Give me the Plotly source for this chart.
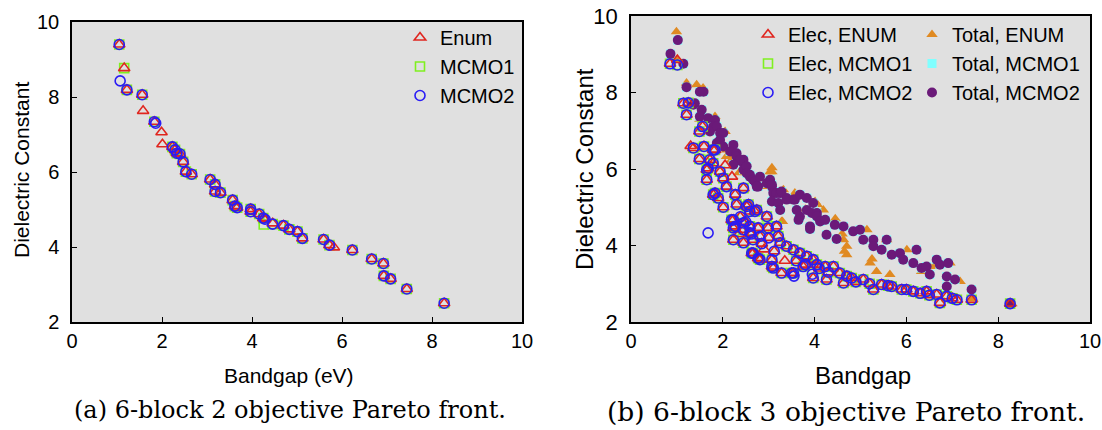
import plotly.graph_objects as go

# ---------------- (a) 6-block 2 objective ----------------
enum_x = [1.05, 1.16, 1.22, 1.56, 1.58, 1.83, 1.99, 2.01, 2.23, 2.29, 2.33, 2.40, 2.47, 2.53, 2.66,
          3.07, 3.18, 3.18, 3.30, 3.57, 3.62, 3.67, 3.97, 3.97, 4.16, 4.25, 4.29, 4.46, 4.70, 4.83,
          5.01, 5.12, 5.59, 5.72, 5.82, 6.23, 6.66, 6.92, 6.93, 7.08, 7.44, 8.27]
enum_y = [9.40, 8.77, 8.19, 8.06, 7.63, 7.34, 7.06, 6.74, 6.67, 6.59, 6.50, 6.48, 6.27, 6.01, 5.94,
          5.80, 5.67, 5.48, 5.45, 5.25, 5.09, 5.05, 5.01, 4.94, 4.88, 4.77, 4.74, 4.63, 4.57, 4.47,
          4.41, 4.23, 4.20, 4.05, 3.99, 3.92, 3.68, 3.56, 3.23, 3.15, 2.88, 2.50]

mcmo1_x = [1.05, 1.16, 1.22, 1.56, 1.83, 2.23, 2.29, 2.33, 2.40, 2.47, 2.53, 2.66, 3.07, 3.18, 3.18,
           3.30, 3.57, 3.62, 3.67, 3.97, 3.97, 4.16, 4.25, 4.26, 4.46, 4.70, 4.83, 5.01, 5.12, 5.59,
           5.72, 6.23, 6.66, 6.92, 6.93, 7.08, 7.44, 8.27]
mcmo1_y = [9.40, 8.77, 8.19, 8.06, 7.34, 6.67, 6.59, 6.50, 6.48, 6.27, 6.01, 5.94, 5.80, 5.67, 5.48,
           5.45, 5.25, 5.09, 5.05, 5.01, 4.94, 4.88, 4.77, 4.60, 4.61, 4.57, 4.47, 4.41, 4.23, 4.20,
           4.05, 3.92, 3.68, 3.56, 3.23, 3.15, 2.88, 2.50]

mcmo2_x = [1.05, 1.07, 1.22, 1.56, 1.83, 1.86, 2.23, 2.29, 2.33, 2.40, 2.47, 2.53, 2.66, 3.07, 3.18,
           3.18, 3.30, 3.57, 3.62, 3.67, 3.97, 3.97, 4.16, 4.25, 4.29, 4.46, 4.70, 4.83, 5.01, 5.12,
           5.59, 5.72, 6.23, 6.66, 6.92, 6.93, 7.08, 7.44, 8.27]
mcmo2_y = [9.40, 8.43, 8.19, 8.06, 7.34, 7.30, 6.67, 6.59, 6.50, 6.48, 6.27, 6.01, 5.94, 5.80, 5.67,
           5.48, 5.45, 5.25, 5.09, 5.05, 5.01, 4.94, 4.88, 4.77, 4.74, 4.61, 4.57, 4.47, 4.41, 4.23,
           4.20, 4.05, 3.92, 3.68, 3.56, 3.23, 3.15, 2.88, 2.50]

# ---------------- (b) 6-block 3 objective ----------------
elec_enum_x = [0.85, 1.01, 1.14, 1.25, 1.21, 1.56, 1.49, 1.36, 1.59, 1.83, 1.49, 1.72, 1.79, 1.68, 1.94,
               2.01, 1.65, 2.08, 2.45, 1.83, 1.90, 2.01, 2.27, 2.30, 2.23, 2.27, 2.52, 2.59, 2.74, 2.96,
               2.23, 2.45, 2.66, 2.45, 2.59, 2.81, 2.99, 3.17, 3.21, 3.25, 3.39, 3.54, 2.66, 2.81, 3.07,
               3.10, 3.28, 3.54, 3.75, 3.97, 4.05, 2.45, 2.59, 2.77, 2.63, 2.77, 3.07, 3.68, 3.83, 4.23,
               4.41, 4.55, 3.50, 3.97, 4.26, 4.63, 4.81, 5.06, 5.28, 5.46, 5.68, 5.90, 6.15, 6.44, 6.66,
               6.88, 6.73, 7.10, 7.42, 8.26, 1.79, 1.65, 1.79, 2.56, 2.70, 2.19, 2.23, 3.60, 3.80, 4.10,
               4.30, 4.70, 4.90, 5.20, 5.60, 6.00, 6.30, 6.50, 7.00, 2.05, 2.20, 1.30, 2.35, 2.90, 3.35,
               2.38, 2.50, 2.62, 2.85, 3.00, 3.12]
elec_enum_y = [8.75, 8.85, 7.72, 7.73, 7.42, 7.11, 6.98, 6.55, 6.59, 6.50, 6.26, 6.24, 6.15, 6.02, 5.93,
               5.76, 5.72, 5.54, 5.50, 5.37, 5.24, 5.00, 5.33, 5.07, 4.67, 4.50, 5.02, 4.89, 4.93, 4.76,
               4.15, 4.07, 4.15, 4.41, 4.33, 4.24, 4.46, 4.50, 4.24, 4.07, 3.98, 3.89, 3.80, 3.63, 3.63,
               3.41, 3.28, 3.28, 3.45, 3.63, 3.50, 4.59, 4.50, 4.46, 3.80, 3.67, 3.45, 3.80, 3.72, 3.45,
               3.45, 3.28, 3.28, 3.15, 3.11, 3.02, 3.15, 3.11, 2.85, 2.98, 2.93, 2.85, 2.80, 2.80, 2.72,
               2.67, 2.50, 2.58, 2.58, 2.48, 6.50, 5.98, 5.33, 5.07, 4.89, 4.67, 4.46, 3.60, 3.50, 3.40,
               3.30, 3.20, 3.05, 3.00, 2.95, 2.85, 2.75, 2.70, 2.62, 6.10, 5.80, 6.60, 4.30, 3.90, 3.60,
               4.75, 4.62, 4.30, 4.05, 4.20, 3.85]

elec_mcmo1_x = [0.85, 1.01, 1.14, 1.25, 1.21, 1.56, 1.49, 1.36, 1.59, 1.83, 1.49, 1.72, 1.79, 1.68, 1.94,
                2.01, 1.65, 2.08, 2.45, 1.83, 1.90, 2.01, 2.27, 2.30, 2.23, 2.27, 2.52, 2.59, 2.74, 2.96,
                2.23, 2.45, 2.66, 2.45, 2.59, 2.81, 2.99, 3.17, 3.21, 3.25, 3.39, 3.54, 2.66, 2.81, 3.07,
                3.10, 3.28, 3.54, 3.75, 3.97, 4.05, 2.45, 2.59, 2.77, 2.63, 2.77, 3.07, 3.68, 3.83, 4.23,
                4.41, 4.55, 3.50, 3.97, 4.26, 4.63, 4.81, 5.06, 5.28, 5.46, 5.68, 5.90, 6.15, 6.44, 6.66,
                6.88, 6.73, 7.10, 7.42, 8.26, 1.79, 1.65, 1.79, 2.56, 2.70, 2.19, 2.23, 3.60, 3.80, 4.10,
                4.30, 4.70, 4.90, 5.20, 5.60, 6.00, 6.30, 6.50, 7.00]
elec_mcmo1_y = [8.75, 8.72, 7.72, 7.73, 7.42, 7.11, 6.98, 6.55, 6.59, 6.50, 6.26, 6.24, 6.15, 6.02, 5.93,
                5.76, 5.72, 5.54, 5.50, 5.37, 5.24, 5.00, 5.33, 5.07, 4.67, 4.50, 5.02, 4.89, 4.93, 4.76,
                4.15, 4.07, 4.15, 4.41, 4.33, 4.24, 4.46, 4.50, 4.24, 4.07, 3.98, 3.89, 3.80, 3.63, 3.63,
                3.41, 3.28, 3.28, 3.45, 3.63, 3.50, 4.59, 4.50, 4.46, 3.80, 3.67, 3.45, 3.80, 3.72, 3.45,
                3.45, 3.28, 3.28, 3.15, 3.11, 3.02, 3.15, 3.11, 2.85, 2.98, 2.93, 2.85, 2.80, 2.80, 2.72,
                2.67, 2.50, 2.58, 2.58, 2.48, 6.50, 5.98, 5.33, 5.07, 4.89, 4.67, 4.46, 3.60, 3.50, 3.40,
                3.30, 3.20, 3.05, 3.00, 2.95, 2.85, 2.75, 2.70, 2.62]

elec_mcmo2_x = [0.85, 1.01, 1.14, 1.25, 1.21, 1.56, 1.49, 1.36, 1.59, 1.83, 1.49, 1.72, 1.79, 1.68, 1.94,
                2.01, 1.65, 2.08, 2.45, 1.83, 1.90, 2.01, 2.27, 2.30, 2.23, 2.27, 2.52, 2.59, 2.74, 2.96,
                2.23, 2.45, 2.66, 2.45, 2.59, 2.81, 2.99, 3.17, 3.21, 3.25, 3.39, 3.54, 2.66, 2.81, 3.07,
                3.10, 3.28, 3.54, 3.75, 3.97, 4.05, 2.45, 2.59, 2.77, 2.63, 2.77, 3.07, 3.68, 3.83, 4.23,
                4.41, 4.55, 3.50, 3.97, 4.26, 4.63, 4.81, 5.06, 5.28, 5.46, 5.68, 5.90, 6.15, 6.44, 6.66,
                6.88, 6.73, 7.10, 7.42, 8.26, 1.79, 1.65, 1.79, 2.56, 2.70, 2.19, 2.23, 3.60, 3.80, 4.10,
                4.30, 4.70, 4.90, 5.20, 5.60, 6.00, 6.30, 6.50, 7.00, 1.68, 3.55, 3.95, 2.38, 2.50, 2.62,
                2.85, 3.00, 3.12]
elec_mcmo2_y = [8.75, 8.72, 7.72, 7.73, 7.42, 7.11, 6.98, 6.55, 6.59, 6.50, 6.26, 6.24, 6.15, 6.02, 5.93,
                5.76, 5.72, 5.54, 5.50, 5.37, 5.24, 5.00, 5.33, 5.07, 4.67, 4.50, 5.02, 4.89, 4.93, 4.76,
                4.15, 4.07, 4.15, 4.41, 4.33, 4.24, 4.46, 4.50, 4.24, 4.07, 3.98, 3.89, 3.80, 3.63, 3.63,
                3.41, 3.28, 3.28, 3.45, 3.63, 3.50, 4.59, 4.50, 4.46, 3.80, 3.67, 3.45, 3.80, 3.72, 3.45,
                3.45, 3.28, 3.28, 3.15, 3.11, 3.02, 3.15, 3.11, 2.85, 2.98, 2.93, 2.85, 2.80, 2.80, 2.72,
                2.67, 2.50, 2.58, 2.58, 2.48, 6.50, 5.98, 5.33, 5.07, 4.89, 4.67, 4.46, 3.60, 3.50, 3.40,
                3.30, 3.20, 3.05, 3.00, 2.95, 2.85, 2.75, 2.70, 2.62, 4.33, 3.20, 3.25, 4.75, 4.62, 4.30,
                4.05, 4.20, 3.85]

total_enum_x = [0.99, 1.21, 1.57, 1.43, 1.83, 2.05, 2.08, 2.16, 1.98, 2.08, 2.19, 2.85, 3.07, 3.07, 3.03,
                3.32, 3.30, 3.61, 3.57, 4.06, 4.01, 4.19, 3.28, 4.63, 4.70, 4.70, 4.65, 5.14, 5.21, 5.35,
                5.64, 5.57, 6.01, 6.33, 6.59, 6.95, 7.17, 7.45, 8.30, 1.00, 1.50, 2.50, 2.70, 4.60, 5.25,
                4.45, 3.80, 2.35]
total_enum_y = [9.59, 8.25, 8.12, 8.20, 7.37, 6.98, 6.33, 6.33, 6.68, 6.50, 6.24, 5.54, 5.93, 6.03, 5.93,
                5.46, 4.63, 5.28, 5.37, 5.07, 5.15, 4.93, 4.63, 4.15, 3.98, 3.76, 3.85, 4.41, 3.54, 3.32,
                3.24, 4.15, 3.89, 3.32, 3.45, 3.54, 3.06, 2.60, 2.48, 8.85, 7.30, 6.00, 5.70, 4.30, 3.65,
                4.70, 4.95, 5.90]

total_mcmo2_x = [1.02, 0.86, 1.14, 1.21, 1.50, 1.58, 1.39, 1.36, 1.54, 1.50, 1.68, 1.83, 1.79, 1.72, 1.87,
                 1.94, 2.01, 1.87, 1.94, 2.01, 2.23, 2.16, 2.30, 2.30, 2.45, 2.41, 2.37, 2.23, 2.45, 2.52,
                 2.52, 2.59, 2.59, 2.66, 2.70, 2.81, 2.77, 2.74, 2.96, 3.03, 3.07, 3.07, 3.10, 3.17, 3.25,
                 3.28, 3.07, 3.21, 3.39, 3.39, 3.54, 3.57, 3.68, 3.83, 3.25, 3.61, 3.68, 3.83, 3.94, 3.97,
                 4.05, 4.05, 4.12, 4.23, 3.65, 3.90, 3.90, 4.26, 4.48, 4.44, 4.63, 4.84, 4.99, 5.06, 5.28,
                 5.28, 5.46, 5.57, 5.68, 5.86, 5.93, 6.15, 6.22, 6.33, 6.44, 6.51, 6.66, 6.73, 6.91, 6.88,
                 7.06, 6.88, 7.42, 8.26]
total_mcmo2_y = [9.37, 9.01, 8.75, 8.14, 8.02, 8.02, 7.72, 7.68, 7.55, 7.37, 7.33, 7.28, 7.11, 6.98, 7.11,
                 6.94, 6.94, 6.68, 6.76, 6.59, 6.63, 6.46, 6.41, 6.33, 6.24, 6.20, 6.24, 6.11, 5.98, 6.07,
                 5.89, 5.85, 5.80, 5.72, 5.67, 5.80, 5.54, 5.54, 5.63, 5.72, 5.54, 5.59, 5.37, 5.37, 5.37,
                 5.41, 5.15, 5.11, 5.24, 5.20, 5.20, 5.20, 5.33, 5.24, 4.93, 4.93, 4.76, 4.93, 4.85, 5.11,
                 4.85, 4.76, 4.63, 4.67, 4.67, 4.50, 4.43, 4.28, 4.17, 4.54, 4.50, 4.37, 4.41, 4.15, 4.15,
                 3.98, 3.89, 4.15, 3.76, 3.80, 3.63, 3.54, 3.89, 3.41, 3.45, 3.24, 3.63, 3.50, 3.54, 3.19,
                 3.11, 2.93, 2.85, 2.48]

total_mcmo1_x = list(total_mcmo2_x)
total_mcmo1_y = list(total_mcmo2_y)

x_ticks = [0, 2, 4, 6, 8, 10]
y_ticks = [2, 4, 6, 8, 10]

RED = "#e0261f"
GREEN = "#80f020"
BLUE = "#2a1cf5"
ORANGE = "#e08a22"
CYAN = "#80ffff"
PURPLE = "#6b1a79"
FONT = "Liberation Sans"
SERIF = "DejaVu Serif"

# the page body margin is removed (see post_script), so the figure fills the 1102x430 window
W, H = 1102, 430


def fx(px):
    return px / W


def fy(py):
    return 1 - py / H


fig = go.Figure()


def open_marker(symbol, color, size=10):
    return dict(symbol=symbol, size=size, color=color, line=dict(color=color, width=1.6))


# left panel: draw green, red, blue
fig.add_trace(go.Scatter(x=mcmo1_x, y=mcmo1_y, mode="markers", name="MCMO1", legendrank=2,
                         marker=open_marker("square-open", GREEN, 9), xaxis="x", yaxis="y", legend="legend"))
fig.add_trace(go.Scatter(x=enum_x, y=enum_y, mode="markers", name="Enum", legendrank=1,
                         marker=open_marker("triangle-up-open", RED, 10), xaxis="x", yaxis="y", legend="legend"))
fig.add_trace(go.Scatter(x=mcmo2_x, y=mcmo2_y, mode="markers", name="MCMO2", legendrank=3,
                         marker=open_marker("circle-open", BLUE, 10), xaxis="x", yaxis="y", legend="legend"))

# right panel: totals first, then elec
fig.add_trace(go.Scatter(x=total_enum_x, y=total_enum_y, mode="markers", name="Total, ENUM", legendrank=1,
                         marker=dict(symbol="triangle-up", size=10, color=ORANGE, line=dict(width=0)),
                         xaxis="x2", yaxis="y2", legend="legend3"))
fig.add_trace(go.Scatter(x=total_mcmo1_x, y=total_mcmo1_y, mode="markers", name="Total, MCMO1", legendrank=2,
                         marker=dict(symbol="square", size=9, color=CYAN, line=dict(width=0)),
                         xaxis="x2", yaxis="y2", legend="legend3"))
fig.add_trace(go.Scatter(x=total_mcmo2_x, y=total_mcmo2_y, mode="markers", name="Total, MCMO2", legendrank=3,
                         marker=dict(symbol="circle", size=10, color=PURPLE, line=dict(width=0)),
                         xaxis="x2", yaxis="y2", legend="legend3"))
fig.add_trace(go.Scatter(x=elec_mcmo1_x, y=elec_mcmo1_y, mode="markers", name="Elec, MCMO1", legendrank=2,
                         marker=open_marker("square-open", GREEN, 9), xaxis="x2", yaxis="y2", legend="legend2"))
fig.add_trace(go.Scatter(x=elec_enum_x, y=elec_enum_y, mode="markers", name="Elec, ENUM", legendrank=1,
                         marker=open_marker("triangle-up-open", RED, 10), xaxis="x2", yaxis="y2", legend="legend2"))
fig.add_trace(go.Scatter(x=elec_mcmo2_x, y=elec_mcmo2_y, mode="markers", name="Elec, MCMO2", legendrank=3,
                         marker=open_marker("circle-open", BLUE, 10), xaxis="x2", yaxis="y2", legend="legend2"))

axis_common = dict(showgrid=False, zeroline=False, showline=True, linecolor="black", linewidth=1.5,
                   mirror=True, ticks="inside", ticklen=5, tickwidth=1, tickcolor="black", automargin=False,
                   ticklabeloverflow="allow")


def legend_box(px, py):
    return dict(x=fx(px), y=fy(py), xref="paper", yref="paper", xanchor="left", yanchor="top",
                bgcolor="rgba(0,0,0,0)", borderwidth=0, orientation="v",
                font=dict(family=FONT, size=20, color="black"), traceorder="normal", itemsizing="trace")


def ann(text, px, py, size, family=FONT, angle=0):
    return dict(text=text, x=fx(px), y=fy(py), xref="paper", yref="paper", xanchor="center",
                yanchor="middle", textangle=angle, showarrow=False,
                font=dict(family=family, size=size, color="black"))


fig.update_layout(
    width=W, height=H,
    margin=dict(l=0, r=0, t=0, b=0, autoexpand=False),
    paper_bgcolor="white",
    plot_bgcolor="#e0e0e0",
    showlegend=True,
    xaxis=dict(domain=[fx(72), fx(522)], range=[0, 10], tickvals=x_ticks, anchor="y",
               tickfont=dict(family=FONT, size=20, color="black"), **axis_common),
    yaxis=dict(domain=[fy(322), fy(22)], range=[2, 10], tickvals=y_ticks, anchor="x",
               tickfont=dict(family=FONT, size=20, color="black"), ticklabelstandoff=7, **axis_common),
    xaxis2=dict(domain=[fx(631), fx(1090)], range=[0, 10], tickvals=x_ticks, anchor="y2",
                tickfont=dict(family=FONT, size=20, color="black"), **axis_common),
    yaxis2=dict(domain=[fy(322), fy(16)], range=[2, 10], tickvals=y_ticks, anchor="x2",
                tickfont=dict(family=FONT, size=22, color="black"), ticklabelstandoff=7, **axis_common),
    legend=legend_box(400, 18),
    legend2=legend_box(748, 15),
    legend3=legend_box(912, 15),
    annotations=[
        ann("Dielectric Constant", 21, 170, 21, angle=-90),
        ann("Dielectric Constant", 584, 169, 24, angle=-90),
        ann("Bandgap (eV)", 289, 375, 21),
        ann("Bandgap", 863, 375, 24),
        ann("(a) 6-block 2 objective Pareto front.", 290, 410, 24, family=SERIF),
        ann("(b) 6-block 3 objective Pareto front.", 846, 411, 26.5, family=SERIF),
    ],
)

fig.write_html("out.html", config={"displayModeBar": False},
               post_script="document.body.style.margin='0px';document.body.style.overflow='hidden';")
